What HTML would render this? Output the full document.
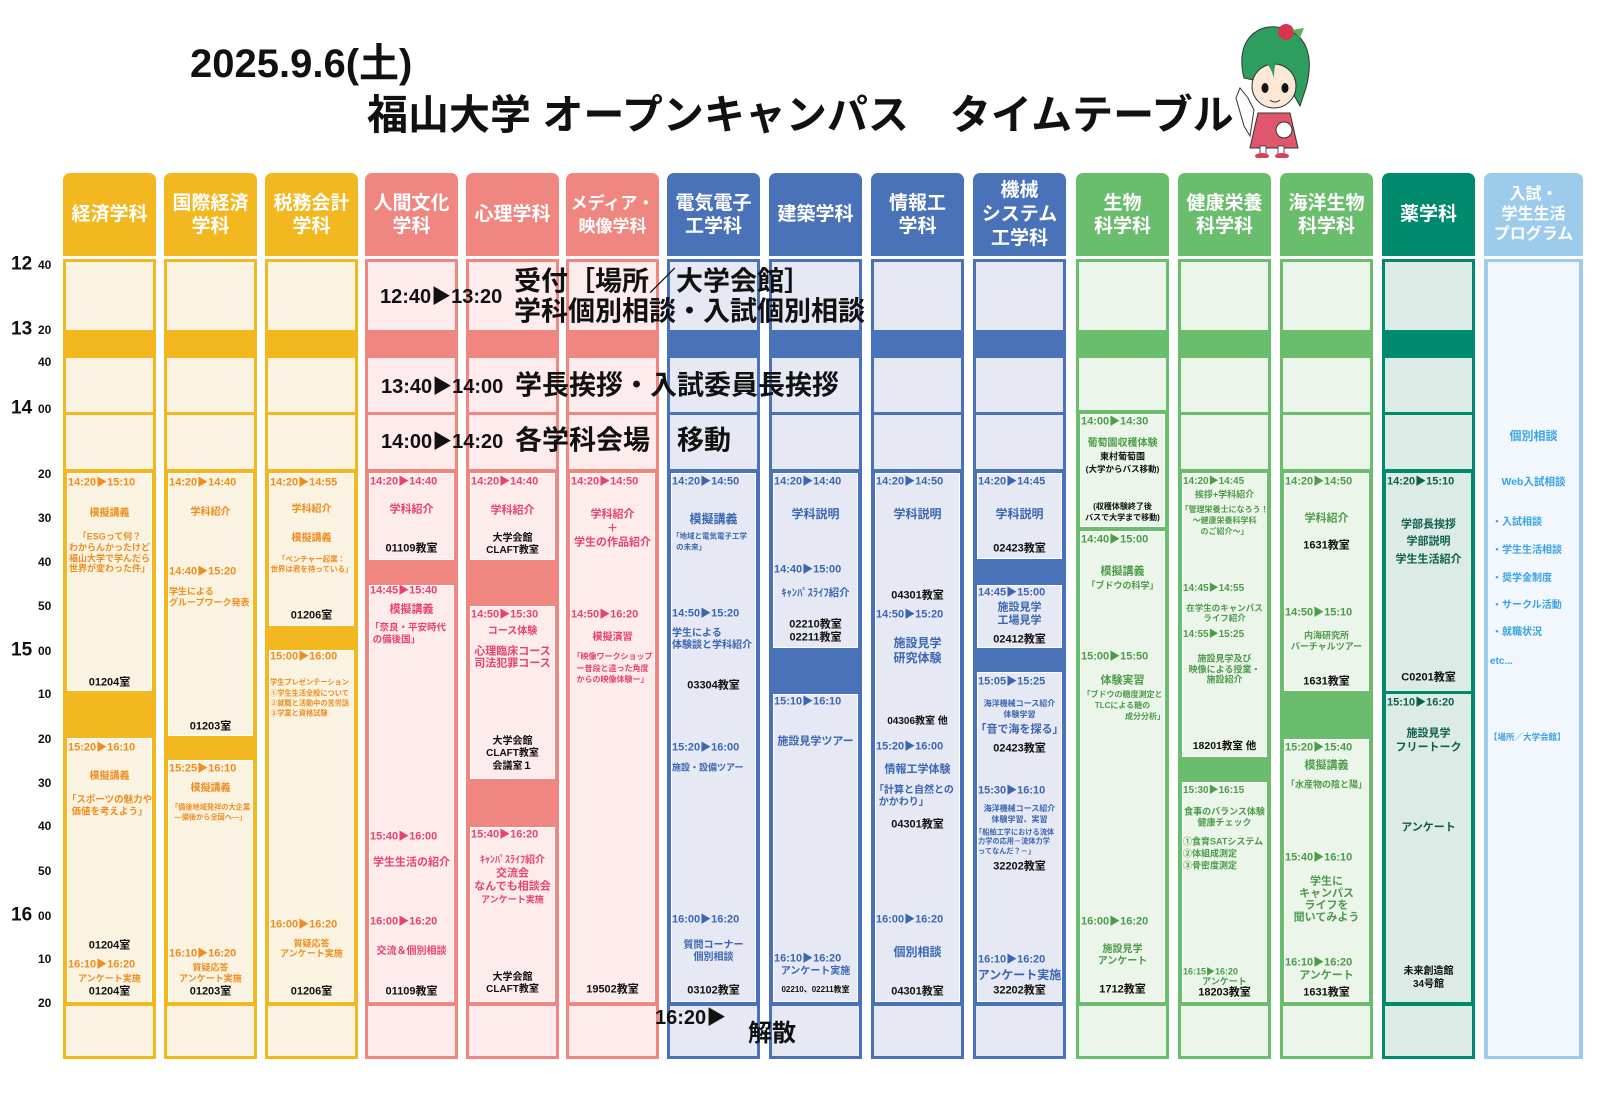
<!DOCTYPE html>
<html><head><meta charset="utf-8">
<style>
*{box-sizing:border-box}
body{margin:0;width:1600px;height:1100px;background:#fff;position:relative;overflow:hidden;font-family:"Liberation Sans","Noto Sans CJK JP",sans-serif;font-weight:bold}
.a{position:absolute}
.col{position:absolute;top:173px;width:93px;height:886px}
.hd{position:absolute;left:0;right:0;top:0;height:83px;border-radius:7px 7px 0 0;color:#fff;font-size:19px;line-height:23px;display:flex;align-items:center;justify-content:center;text-align:center;white-space:nowrap}
.bd{position:absolute;left:0;right:0;top:86px;height:800px;border:3px solid}
.band{position:absolute;left:0;right:0;top:157px;height:28px}
.ln{position:absolute;left:0;right:0;top:239px;height:3px}
.rg{position:absolute;left:0;right:0;top:296px;height:537px}
.bx{position:absolute;left:4px;right:4px;border:1px solid #fff}
.col p{position:absolute;left:0;right:0;margin:0;text-align:center;white-space:nowrap;line-height:1;transform:translateY(-50%);font-size:11px}
.col p.t{text-align:left;left:5px;font-size:11px}
.col p.s{font-size:9px}
.col p.r{color:#111}
.col p.l{text-align:left;left:5px}
.Y .t,.Y p{color:#ef8d1e}.P p{color:#e7436f}.B p{color:#3b66b2}.G p{color:#4c9c4a}.T p{color:#0c5f4c}
.hr{position:absolute;left:11px;font-size:19px;color:#111;transform:translateY(-50%);line-height:1}
.mn{position:absolute;left:38px;font-size:12px;color:#111;transform:translateY(-50%);line-height:1}
.big{position:absolute;font-size:27px;color:#111;line-height:1;white-space:nowrap;transform:translateY(-50%)}
.tt{position:absolute;font-size:20px;color:#111;line-height:1;white-space:nowrap;transform:translateY(-50%)}
</style></head><body>

<div class="a" style="left:190px;top:44px;font-size:40px;color:#111;line-height:1">2025.9.6(土)</div>
<div class="a" style="left:367px;top:95px;font-size:41px;color:#111;line-height:1;white-space:nowrap">福山大学 オープンキャンパス　タイムテーブル</div>

<svg class="a" style="left:1230px;top:18px" width="95" height="140" viewBox="0 0 95 140">
<path d="M20 118 L14 108 L6 80 L10 70 L18 80 L24 92 Z" fill="#fff" stroke="#333" stroke-width="1"/>
<path d="M28 95 L60 95 L68 130 L20 130 Z" fill="#e0566c" stroke="#333" stroke-width="1"/>
<rect x="30" y="128" width="6" height="8" fill="#fff" stroke="#333" stroke-width=".8"/>
<rect x="48" y="128" width="6" height="8" fill="#fff" stroke="#333" stroke-width=".8"/>
<ellipse cx="32" cy="138" rx="7" ry="3" fill="#d9415b"/><ellipse cx="52" cy="138" rx="7" ry="3" fill="#d9415b"/>
<path d="M14 60 C4 20 30 4 52 10 C78 16 84 40 76 70 L70 88 L60 70 Z" fill="#2e9e5e" stroke="#333" stroke-width="1"/>
<ellipse cx="44" cy="68" rx="22" ry="22" fill="#fde7d6" stroke="#333" stroke-width="1"/>
<path d="M22 60 C20 30 50 18 66 40 C56 30 44 34 44 60 C38 40 30 40 22 60Z" fill="#2e9e5e"/>
<ellipse cx="35" cy="70" rx="3.5" ry="5" fill="#111"/><ellipse cx="55" cy="70" rx="3.5" ry="5" fill="#111"/>
<path d="M40 82 Q45 86 50 82" stroke="#333" fill="none"/>
<circle cx="56" cy="14" r="8" fill="#d9344f"/><path d="M62 12 L74 10 L70 20Z" fill="#5cb35c"/>
<circle cx="54" cy="112" r="8" fill="#fff" stroke="#333"/>
</svg>

<div class="hr" style="top:264px">12</div><div class="mn" style="top:265px">40</div>
<div class="hr" style="top:329px">13</div><div class="mn" style="top:330px">20</div>
<div class="mn" style="top:362px">40</div>
<div class="hr" style="top:408px">14</div><div class="mn" style="top:409px">00</div>
<div class="mn" style="top:474px">20</div><div class="mn" style="top:518px">30</div><div class="mn" style="top:562px">40</div><div class="mn" style="top:606px">50</div>
<div class="hr" style="top:650px">15</div><div class="mn" style="top:651px">00</div>
<div class="mn" style="top:694px">10</div><div class="mn" style="top:739px">20</div><div class="mn" style="top:783px">30</div><div class="mn" style="top:826px">40</div><div class="mn" style="top:871px">50</div>
<div class="hr" style="top:915px">16</div><div class="mn" style="top:916px">00</div>
<div class="mn" style="top:959px">10</div><div class="mn" style="top:1003px">20</div>

<div class="col Y" style="left:63px">
<div class="hd" style="background:#f3b81f">経済学科</div>
<div class="bd" style="border-color:#f3b81f;background:#fbf3e2"></div>
<div class="band" style="background:#f3b81f"></div><div class="ln" style="background:#f3b81f"></div>
<div class="rg" style="background:#f3b81f"></div>
<div class="bx" style="top:300px;height:218px;background:#fbf3e2"></div>
<div class="bx" style="top:565px;height:264px;background:#fbf3e2"></div>
<p class="t" style="top:310px">14:20▶15:10</p><p style="top:341px;font-size:10px">模擬講義</p>
<p class="s" style="top:364px">「ESGって何？</p><p class="s" style="top:375px">わからんかったけど</p><p class="s" style="top:386px">福山大学で学んだら</p><p class="s" style="top:396px">世界が変わった件」</p>
<p class="r" style="top:510px">01204室</p>
<p class="t" style="top:575px">15:20▶16:10</p><p style="top:604px;font-size:10px">模擬講義</p>
<p style="top:627px;font-size:9.5px">「スポーツの魅力や</p><p style="top:639px;font-size:9.5px">価値を考えよう」</p>
<p class="r" style="top:773px">01204室</p><p class="t" style="top:792px">16:10▶16:20</p><p class="s" style="top:806px">アンケート実施</p><p class="r" style="top:819px">01204室</p>
</div>

<div class="col Y" style="left:164px">
<div class="hd" style="background:#f3b81f">国際経済<br>学科</div>
<div class="bd" style="border-color:#f3b81f;background:#fbf3e2"></div>
<div class="band" style="background:#f3b81f"></div><div class="ln" style="background:#f3b81f"></div>
<div class="rg" style="background:#f3b81f"></div>
<div class="bx" style="top:300px;height:263px;background:#fbf3e2"></div>
<div class="bx" style="top:587px;height:242px;background:#fbf3e2"></div>
<p class="t" style="top:310px">14:20▶14:40</p><p style="top:340px;font-size:10px">学科紹介</p>
<p class="t" style="top:399px">14:40▶15:20</p><p class="s l" style="top:419px">学生による</p><p class="s l" style="top:430px">グループワーク発表</p>
<p class="r" style="top:554px">01203室</p>
<p class="t" style="top:596px">15:25▶16:10</p><p style="top:616px;font-size:10px">模擬講義</p>
<p class="s" style="top:634px;font-size:7.2px">「備後地域発祥の大企業</p><p class="s" style="top:644px;font-size:7.2px">―備後から全国へ―」</p>
<p class="t" style="top:781px">16:10▶16:20</p><p class="s" style="top:795px">質疑応答</p><p class="s" style="top:806px">アンケート実施</p><p class="r" style="top:819px">01203室</p>
</div>

<div class="col Y" style="left:265px">
<div class="hd" style="background:#f3b81f">税務会計<br>学科</div>
<div class="bd" style="border-color:#f3b81f;background:#fbf3e2"></div>
<div class="band" style="background:#f3b81f"></div><div class="ln" style="background:#f3b81f"></div>
<div class="rg" style="background:#f3b81f"></div>
<div class="bx" style="top:300px;height:153px;background:#fbf3e2"></div>
<div class="bx" style="top:477px;height:352px;background:#fbf3e2"></div>
<p class="t" style="top:310px">14:20▶14:55</p><p style="top:337px;font-size:10px">学科紹介</p><p style="top:366px;font-size:10px">模擬講義</p>
<p class="s" style="top:386px;font-size:7.5px">「ベンチャー起業：</p><p class="s" style="top:396px;font-size:7.5px">世界は君を待っている」</p>
<p class="r" style="top:443px">01206室</p>
<p class="t" style="top:484px">15:00▶16:00</p>
<p class="s l" style="top:509px;font-size:7.2px">学生プレゼンテーション</p><p class="s l" style="top:520px;font-size:7.2px">①学生生活全般について</p><p class="s l" style="top:530px;font-size:7.2px">②就職と活動中の苦労話</p><p class="s l" style="top:540px;font-size:7.2px">③学業と資格試験</p>
<p class="t" style="top:752px">16:00▶16:20</p><p class="s" style="top:771px">質疑応答</p><p class="s" style="top:781px">アンケート実施</p><p class="r" style="top:819px">01206室</p>
</div>

<div class="col P" style="left:365px">
<div class="hd" style="background:#ef8680">人間文化<br>学科</div>
<div class="bd" style="border-color:#ef8680;background:#fdeceb"></div>
<div class="band" style="background:#ef8680"></div><div class="ln" style="background:#ef8680"></div>
<div class="rg" style="background:#ef8680"></div>
<div class="bx" style="top:300px;height:87px;background:#fdeceb"></div>
<div class="bx" style="top:412px;height:417px;background:#fdeceb"></div>
<p class="t" style="top:309px">14:20▶14:40</p><p style="top:337px">学科紹介</p><p class="r" style="top:376px">01109教室</p>
<p class="t" style="top:418px">14:45▶15:40</p><p style="top:437px">模擬講義</p><p class="l" style="top:455px;font-size:9.5px">「奈良・平安時代</p><p class="l" style="top:467px;font-size:9.5px">&nbsp;の備後国」</p>
<p class="t" style="top:664px">15:40▶16:00</p><p style="top:690px">学生生活の紹介</p>
<p class="t" style="top:749px">16:00▶16:20</p><p style="top:779px;font-size:10px">交流＆個別相談</p><p class="r" style="top:819px">01109教室</p>
</div>

<div class="col P" style="left:466px">
<div class="hd" style="background:#ef8680">心理学科</div>
<div class="bd" style="border-color:#ef8680;background:#fdeceb"></div>
<div class="band" style="background:#ef8680"></div><div class="ln" style="background:#ef8680"></div>
<div class="rg" style="background:#ef8680"></div>
<div class="bx" style="top:300px;height:87px;background:#fdeceb"></div>
<div class="bx" style="top:433px;height:173px;background:#fdeceb"></div>
<div class="bx" style="top:654px;height:175px;background:#fdeceb"></div>
<p class="t" style="top:309px">14:20▶14:40</p><p style="top:338px">学科紹介</p><p class="r s" style="top:366px;font-size:10px">大学会館</p><p class="r s" style="top:378px;font-size:10px">CLAFT教室</p>
<p class="t" style="top:442px">14:50▶15:30</p><p style="top:459px;font-size:10px">コース体験</p><p style="top:479px">心理臨床コース</p><p style="top:491px">司法犯罪コース</p>
<p class="r" style="top:569px;font-size:10px">大学会館</p><p class="r" style="top:581px;font-size:10px">CLAFT教室</p><p class="r" style="top:594px;font-size:10px">会議室１</p>
<p class="t" style="top:662px">15:40▶16:20</p><p style="top:688px;font-size:10px">ｷｬﾝﾊﾟｽﾗｲﾌ紹介</p><p style="top:701px">交流会</p><p style="top:714px">なんでも相談会</p><p class="s" style="top:727px">アンケート実施</p>
<p class="r" style="top:805px;font-size:10px">大学会館</p><p class="r" style="top:817px;font-size:10px">CLAFT教室</p>
</div>

<div class="col P" style="left:566px">
<div class="hd" style="background:#ef8680;font-size:17px">メディア・<br>映像学科</div>
<div class="bd" style="border-color:#ef8680;background:#fdeceb"></div>
<div class="band" style="background:#ef8680"></div><div class="ln" style="background:#ef8680"></div>
<div class="rg" style="background:#ef8680"></div>
<div class="bx" style="top:300px;height:529px;background:#fdeceb"></div>
<p class="t" style="top:309px">14:20▶14:50</p><p style="top:342px">学科紹介</p><p style="top:356px">＋</p><p style="top:370px">学生の作品紹介</p>
<p class="t" style="top:442px">14:50▶16:20</p><p style="top:465px;font-size:10px">模擬演習</p>
<p class="s" style="top:484px;font-size:8px">「映像ワークショップ</p><p class="s" style="top:496px;font-size:8px">ー普段と違った角度</p><p class="s" style="top:507px;font-size:8px">からの映像体験ー」</p>
<p class="r" style="top:817px">19502教室</p>
</div>

<div class="col B" style="left:667px">
<div class="hd" style="background:#4a72b8">電気電子<br>工学科</div>
<div class="bd" style="border-color:#4a72b8;background:#e6e9f4"></div>
<div class="band" style="background:#4a72b8"></div><div class="ln" style="background:#4a72b8"></div>
<div class="rg" style="background:#4a72b8"></div>
<div class="bx" style="top:300px;height:529px;background:#e6e9f4"></div>
<p class="t" style="top:309px">14:20▶14:50</p><p style="top:346px;font-size:12px">模擬講義</p>
<p class="s l" style="top:363px;font-size:7.5px">「地域と電気電子工学</p><p class="s l" style="top:374px;font-size:7.5px">&nbsp;&nbsp;の未来」</p>
<p class="t" style="top:441px">14:50▶15:20</p><p class="l" style="top:461px;font-size:10px">学生による</p><p class="l" style="top:473px;font-size:10px">体験談と学科紹介</p>
<p class="r" style="top:513px">03304教室</p>
<p class="t" style="top:575px">15:20▶16:00</p><p class="s l" style="top:595px">施設・設備ツアー</p>
<p class="t" style="top:747px">16:00▶16:20</p><p style="top:773px;font-size:10px">質問コーナー</p><p style="top:785px;font-size:10px">個別相談</p>
<p class="r" style="top:818px">03102教室</p>
</div>

<div class="col B" style="left:769px">
<div class="hd" style="background:#4a72b8">建築学科</div>
<div class="bd" style="border-color:#4a72b8;background:#e6e9f4"></div>
<div class="band" style="background:#4a72b8"></div><div class="ln" style="background:#4a72b8"></div>
<div class="rg" style="background:#4a72b8"></div>
<div class="bx" style="top:300px;height:175px;background:#e6e9f4"></div>
<div class="bx" style="top:521px;height:308px;background:#e6e9f4"></div>
<p class="t" style="top:309px">14:20▶14:40</p><p style="top:341px;font-size:12px">学科説明</p>
<p class="t" style="top:397px">14:40▶15:00</p><p style="top:420px;font-size:10.5px">ｷｬﾝﾊﾟｽﾗｲﾌ紹介</p>
<p class="r" style="top:452px">02210教室</p><p class="r" style="top:465px">02211教室</p>
<p class="t" style="top:529px">15:10▶16:10</p><p style="top:569px;font-size:11px">施設見学ツアー</p>
<p class="t" style="top:786px">16:10▶16:20</p><p style="top:799px;font-size:10px">アンケート実施</p><p class="r" style="top:817px;font-size:8px">02210、02211教室</p>
</div>

<div class="col B" style="left:871px">
<div class="hd" style="background:#4a72b8">情報工<br>学科</div>
<div class="bd" style="border-color:#4a72b8;background:#e6e9f4"></div>
<div class="band" style="background:#4a72b8"></div><div class="ln" style="background:#4a72b8"></div>
<div class="rg" style="background:#4a72b8"></div>
<div class="bx" style="top:300px;height:529px;background:#e6e9f4"></div>
<p class="t" style="top:309px">14:20▶14:50</p><p style="top:341px;font-size:12px">学科説明</p>
<p class="r" style="top:423px">04301教室</p>
<p class="t" style="top:442px">14:50▶15:20</p><p style="top:470px;font-size:12px">施設見学</p><p style="top:485px;font-size:12px">研究体験</p>
<p class="r" style="top:549px;font-size:10px">04306教室 他</p>
<p class="t" style="top:574px">15:20▶16:00</p><p style="top:597px">情報工学体験</p>
<p class="l" style="top:618px;font-size:10px;left:3px">「計算と自然との</p><p class="l" style="top:630px;font-size:10px">&nbsp;かかわり」</p>
<p class="r" style="top:652px">04301教室</p>
<p class="t" style="top:747px">16:00▶16:20</p><p style="top:779px;font-size:12px">個別相談</p><p class="r" style="top:819px">04301教室</p>
</div>

<div class="col B" style="left:973px">
<div class="hd" style="background:#4a72b8;line-height:24px">機械<br>システム<br>工学科</div>
<div class="bd" style="border-color:#4a72b8;background:#e6e9f4"></div>
<div class="band" style="background:#4a72b8"></div><div class="ln" style="background:#4a72b8"></div>
<div class="rg" style="background:#4a72b8"></div>
<div class="bx" style="top:300px;height:86px;background:#e6e9f4"></div>
<div class="bx" style="top:412px;height:63px;background:#e6e9f4"></div>
<div class="bx" style="top:499px;height:330px;background:#e6e9f4"></div>
<p class="t" style="top:309px">14:20▶14:45</p><p style="top:341px;font-size:12px">学科説明</p><p class="r" style="top:376px">02423教室</p>
<p class="t" style="top:420px">14:45▶15:00</p><p style="top:435px">施設見学</p><p style="top:448px">工場見学</p><p class="r" style="top:467px">02412教室</p>
<p class="t" style="top:509px">15:05▶15:25</p><p class="s" style="top:531px;font-size:8px">海洋機械コース紹介</p><p class="s" style="top:542px;font-size:8px">体験学習</p>
<p style="top:557px">「音で海を探る」</p><p class="r" style="top:576px">02423教室</p>
<p class="t" style="top:618px">15:30▶16:10</p><p class="s" style="top:636px;font-size:8px">海洋機械コース紹介</p><p class="s" style="top:647px;font-size:8px">体験学習、実習</p>
<p class="s l" style="top:659px;font-size:7.2px;left:2px">「船舶工学における流体</p><p class="s l" style="top:668px;font-size:7.2px">力学の応用－流体力学</p><p class="s l" style="top:678px;font-size:7.2px">ってなんだ？－」</p>
<p class="r" style="top:694px">32202教室</p>
<p class="t" style="top:787px">16:10▶16:20</p><p style="top:802px;font-size:12px">アンケート実施</p><p class="r" style="top:818px">32202教室</p>
</div>

<div class="col G" style="left:1076px">
<div class="hd" style="background:#6bbd6e">生物<br>科学科</div>
<div class="bd" style="border-color:#6bbd6e;background:#ecf5ea"></div>
<div class="band" style="background:#6bbd6e"></div>
<div class="rg" style="background:#6bbd6e;top:237px;height:596px"></div>
<div class="bx" style="top:241px;height:113px;background:#ecf5ea"></div>
<div class="bx" style="top:358px;height:471px;background:#ecf5ea"></div>
<p class="t" style="top:249px">14:00▶14:30</p><p style="top:271px;font-size:10px">葡萄園収穫体験</p>
<p class="r" style="top:284px;font-size:9px">東村葡萄園</p><p class="r" style="top:296px;font-size:8.5px">(大学からバス移動)</p>
<p class="r" style="top:334px;font-size:8px">(収穫体験終了後</p><p class="r" style="top:345px;font-size:8px">バスで大学まで移動)</p>
<p class="t" style="top:367px">14:40▶15:00</p><p style="top:399px">模擬講義</p><p class="s" style="top:413px">「ブドウの科学」</p>
<p class="t" style="top:484px">15:00▶15:50</p><p style="top:508px">体験実習</p>
<p class="s" style="top:522px;font-size:8px">「ブドウの糖度測定と</p><p class="s" style="top:533px;font-size:8px">TLCによる糖の</p><p class="s" style="top:544px;font-size:8px;text-align:right;right:4px;left:auto">成分分析」</p>
<p class="t" style="top:749px">16:00▶16:20</p><p class="s" style="top:777px;font-size:10px">施設見学</p><p class="s" style="top:789px;font-size:10px">アンケート</p>
<p class="r" style="top:817px">1712教室</p>
</div>

<div class="col G" style="left:1178px">
<div class="hd" style="background:#6bbd6e">健康栄養<br>科学科</div>
<div class="bd" style="border-color:#6bbd6e;background:#ecf5ea"></div>
<div class="band" style="background:#6bbd6e"></div><div class="ln" style="background:#6bbd6e"></div>
<div class="rg" style="background:#6bbd6e"></div>
<div class="bx" style="top:300px;height:284px;background:#ecf5ea"></div>
<div class="bx" style="top:609px;height:220px;background:#ecf5ea"></div>
<p class="t" style="top:309px;font-size:10px">14:20▶14:45</p><p class="s" style="top:322px">挨拶+学科紹介</p>
<p class="s" style="top:337px;font-size:8px">「管理栄養士になろう！</p><p class="s" style="top:348px;font-size:8px">～健康栄養科学科</p><p class="s" style="top:359px;font-size:8px">のご紹介～」</p>
<p class="t" style="top:416px;font-size:10px">14:45▶14:55</p><p class="s" style="top:435px;font-size:8.5px">在学生のキャンパス</p><p class="s" style="top:445px;font-size:8.5px">ライフ紹介</p>
<p class="t" style="top:462px;font-size:10px">14:55▶15:25</p><p class="s" style="top:486px">施設見学及び</p><p class="s" style="top:497px">映像による授業・</p><p class="s" style="top:507px">施設紹介</p>
<p class="r" style="top:573px;font-size:10.5px">18201教室 他</p>
<p class="t" style="top:618px;font-size:10px">15:30▶16:15</p><p class="s" style="top:639px">食事のバランス体験</p><p class="s" style="top:650px">健康チェック</p>
<p class="s l" style="top:669px">①食育SATシステム</p><p class="s l" style="top:681px">②体組成測定</p><p class="s l" style="top:693px">③骨密度測定</p>
<p class="t" style="top:799px;font-size:9px">16:15▶16:20</p><p class="s" style="top:809px">アンケート</p><p class="r" style="top:820px">18203教室</p>
</div>

<div class="col G" style="left:1280px">
<div class="hd" style="background:#6bbd6e">海洋生物<br>科学科</div>
<div class="bd" style="border-color:#6bbd6e;background:#ecf5ea"></div>
<div class="band" style="background:#6bbd6e"></div><div class="ln" style="background:#6bbd6e"></div>
<div class="rg" style="background:#6bbd6e"></div>
<div class="bx" style="top:300px;height:218px;background:#ecf5ea"></div>
<div class="bx" style="top:566px;height:263px;background:#ecf5ea"></div>
<p class="t" style="top:309px">14:20▶14:50</p><p style="top:346px">学科紹介</p><p class="r" style="top:373px">1631教室</p>
<p class="t" style="top:440px">14:50▶15:10</p><p class="s" style="top:463px">内海研究所</p><p class="s" style="top:474px">バーチャルツアー</p>
<p class="r" style="top:509px">1631教室</p>
<p class="t" style="top:575px">15:20▶15:40</p><p style="top:593px">模擬講義</p><p class="s" style="top:612px">「水産物の陰と陽」</p>
<p class="t" style="top:685px">15:40▶16:10</p><p style="top:709px">学生に</p><p style="top:721px">キャンパス</p><p style="top:733px">ライフを</p><p style="top:745px">聞いてみよう</p>
<p class="t" style="top:790px">16:10▶16:20</p><p style="top:803px">アンケート</p><p class="r" style="top:820px">1631教室</p>
</div>

<div class="col T" style="left:1382px">
<div class="hd" style="background:#008a6d">薬学科</div>
<div class="bd" style="border-color:#008a6d;background:#dcebe5"></div>
<div class="band" style="background:#008a6d"></div><div class="ln" style="background:#008a6d"></div>
<div class="rg" style="background:#008a6d"></div>
<div class="bx" style="top:300px;height:218px;background:#dcebe5;border:none"></div>
<div class="bx" style="top:521px;height:308px;background:#dcebe5;border:none"></div>
<p class="t" style="top:309px">14:20▶15:10</p><p style="top:352px">学部長挨拶</p><p style="top:369px">学部説明</p><p style="top:387px">学生生活紹介</p>
<p class="r" style="top:505px">C0201教室</p>
<p class="t" style="top:530px">15:10▶16:20</p><p style="top:561px">施設見学</p><p style="top:575px">フリートーク</p><p style="top:655px">アンケート</p>
<p class="r" style="top:799px;font-size:10px">未来創造館</p><p class="r" style="top:812px;font-size:10px">34号館</p>
</div>

<div class="col" style="left:1484px;width:99px">
<div class="hd" style="background:#9ccbeb;font-size:16px;line-height:20px">入試・<br>学生生活<br>プログラム</div>
<div class="bd" style="border-color:#9ccbeb;background:#f2f7fd;border-width:3px 4px"></div>
<p style="top:263px;font-size:12px;color:#3aa3e3">個別相談</p>
<p style="top:309px;font-size:10.5px;color:#3aa3e3">Web入試相談</p>
<p style="top:350px;font-size:10px;color:#3aa3e3;text-align:left;left:8px">・入試相談</p>
<p style="top:378px;font-size:10px;color:#3aa3e3;text-align:left;left:8px">・学生生活相談</p>
<p style="top:406px;font-size:10px;color:#3aa3e3;text-align:left;left:8px">・奨学金制度</p>
<p style="top:433px;font-size:10px;color:#3aa3e3;text-align:left;left:8px">・サークル活動</p>
<p style="top:460px;font-size:10px;color:#3aa3e3;text-align:left;left:8px">・就職状況</p>
<p style="top:489px;font-size:10px;color:#3aa3e3;text-align:left;left:6px">etc...</p>
<p style="top:564px;font-size:8.5px;color:#3aa3e3;text-align:left;left:5px">【場所／大学会館】</p>
</div>

<div class="tt" style="left:380px;top:297px">12:40▶13:20</div>
<div class="big" style="left:514px;top:282px">受付［場所／大学会館］</div>
<div class="big" style="left:514px;top:312px">学科個別相談・入試個別相談</div>
<div class="tt" style="left:381px;top:387px">13:40▶14:00</div>
<div class="big" style="left:515px;top:386px">学長挨拶・入試委員長挨拶</div>
<div class="tt" style="left:381px;top:442px">14:00▶14:20</div>
<div class="big" style="left:515px;top:441px">各学科会場　移動</div>
<div class="tt" style="left:655px;top:1018px">16:20▶</div>
<div class="big" style="left:748px;top:1034px;font-size:24px">解散</div>

</body></html>
